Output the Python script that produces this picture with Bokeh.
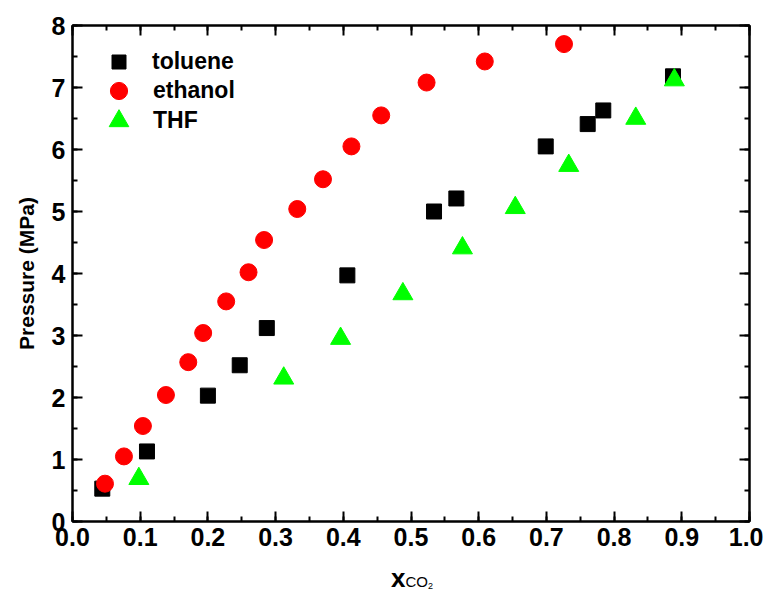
from bokeh.plotting import figure
from bokeh.models import (LinearAxis, SingleIntervalTicker, NumeralTickFormatter,
                          CustomJSTickFormatter, Range1d, Legend, LegendItem, Div)
from bokeh.layouts import column
from bokeh.embed import file_html
from bokeh.resources import INLINE

# ---- data ----
toluene_x = [0.044, 0.110, 0.200, 0.247, 0.287, 0.406, 0.534, 0.567, 0.699, 0.761, 0.784, 0.887]
toluene_p = [0.53, 1.13, 2.03, 2.52, 3.12, 3.97, 5.00, 5.21, 6.05, 6.41, 6.63, 7.18]

ethanol_x = [0.048, 0.076, 0.104, 0.138, 0.171, 0.193, 0.227, 0.260, 0.283, 0.332,
             0.370, 0.412, 0.456, 0.523, 0.609, 0.726]
ethanol_p = [0.61, 1.05, 1.54, 2.04, 2.57, 3.04, 3.55, 4.02, 4.54, 5.04,
             5.52, 6.05, 6.55, 7.08, 7.42, 7.70]

thf_x = [0.098, 0.312, 0.396, 0.488, 0.576, 0.654, 0.733, 0.832, 0.889]
thf_p = [0.69, 2.31, 2.95, 3.67, 4.41, 5.06, 5.74, 6.50, 7.12]

series_names = ["toluene", "ethanol", "THF"]

FONT = "Liberation Sans"

p = figure(width=763, height=562, output_backend="svg", toolbar_location=None,
           x_range=Range1d(0, 1), y_range=Range1d(0, 8),
           min_border_left=72, min_border_right=14, min_border_top=25, min_border_bottom=41)
p.xgrid.visible = False
p.ygrid.visible = False
p.outline_line_color = "black"
p.outline_line_width = 2

p.xaxis.ticker = SingleIntervalTicker(interval=0.1, num_minor_ticks=2)
p.yaxis.ticker = SingleIntervalTicker(interval=1, num_minor_ticks=2)
p.xaxis.formatter = NumeralTickFormatter(format="0.0")
p.yaxis.formatter = NumeralTickFormatter(format="0")

for ax in (p.xaxis[0], p.yaxis[0]):
    ax.axis_line_width = 2
    ax.major_tick_in = 10
    ax.major_tick_out = 0
    ax.minor_tick_in = 5
    ax.minor_tick_out = 0
    ax.major_tick_line_width = 2
    ax.minor_tick_line_width = 2
    ax.major_label_text_font = FONT
    ax.major_label_text_font_style = "bold"
    ax.major_label_text_font_size = "25px"
    ax.major_label_text_color = "black"
p.xaxis.major_label_standoff = 6
p.yaxis.major_label_standoff = 7

p.yaxis.axis_label = "Pressure (MPa)"
p.yaxis.axis_label_text_font = FONT
p.yaxis.axis_label_text_font_style = "bold"
p.yaxis.axis_label_text_font_size = "21px"
p.yaxis.axis_label_text_color = "black"
p.yaxis.axis_label_standoff = 11

top = LinearAxis(ticker=SingleIntervalTicker(interval=0.1, num_minor_ticks=2),
                 formatter=CustomJSTickFormatter(code="return ''"), major_label_standoff=0,
                 major_tick_in=10, major_tick_out=0, minor_tick_in=5, minor_tick_out=0,
                 axis_line_width=2, major_tick_line_width=2, minor_tick_line_width=2)
right = LinearAxis(ticker=SingleIntervalTicker(interval=1, num_minor_ticks=2),
                   formatter=CustomJSTickFormatter(code="return ''"), major_label_standoff=0,
                   major_tick_in=10, major_tick_out=0, minor_tick_in=5, minor_tick_out=0,
                   axis_line_width=2, major_tick_line_width=2, minor_tick_line_width=2)
p.add_layout(top, "above")
p.add_layout(right, "right")

r_tol = p.scatter(toluene_x, toluene_p, marker="square", size=15, color="black")
r_eth = p.scatter(ethanol_x, ethanol_p, marker="circle", size=17, color="#ff0000")
r_thf = p.scatter(thf_x, thf_p, marker="triangle", size=20, color="#00ff00")

# one legend per entry so each legend marker can have its own size
legend_specs = [
    (r_tol, series_names[0], 35, (29, 442), 16),
    (r_eth, series_names[1], 43, (25, 409), 13),
    (r_thf, series_names[2], 49, (22, 376), 10),
]
for rend, name, box, loc, standoff in legend_specs:
    lg = Legend(items=[LegendItem(label=name, renderers=[rend])], location=loc,
                padding=0, margin=0, glyph_width=box, glyph_height=box,
                label_height=20, spacing=0, label_standoff=standoff,
                border_line_color=None, background_fill_alpha=0,
                label_text_font=FONT, label_text_font_style="bold",
                label_text_font_size="23px", label_text_color="black")
    p.add_layout(lg, "center")

xlabel = Div(
    text=('<span style="font-weight:bold;font-size:26px">x</span>'
          '<span style="font-size:15px">CO</span>'
          '<span style="font-size:9px;position:relative;top:2px">2</span>'),
    width=763, height=30, margin=(0, 0, 0, 0),
    styles={"font-family": FONT, "color": "black", "padding-left": "391px",
            "padding-top": "2px", "line-height": "28px", "box-sizing": "border-box"})

layout = column(p, xlabel, spacing=0)

open("out.html", "w").write(file_html(layout, INLINE))
